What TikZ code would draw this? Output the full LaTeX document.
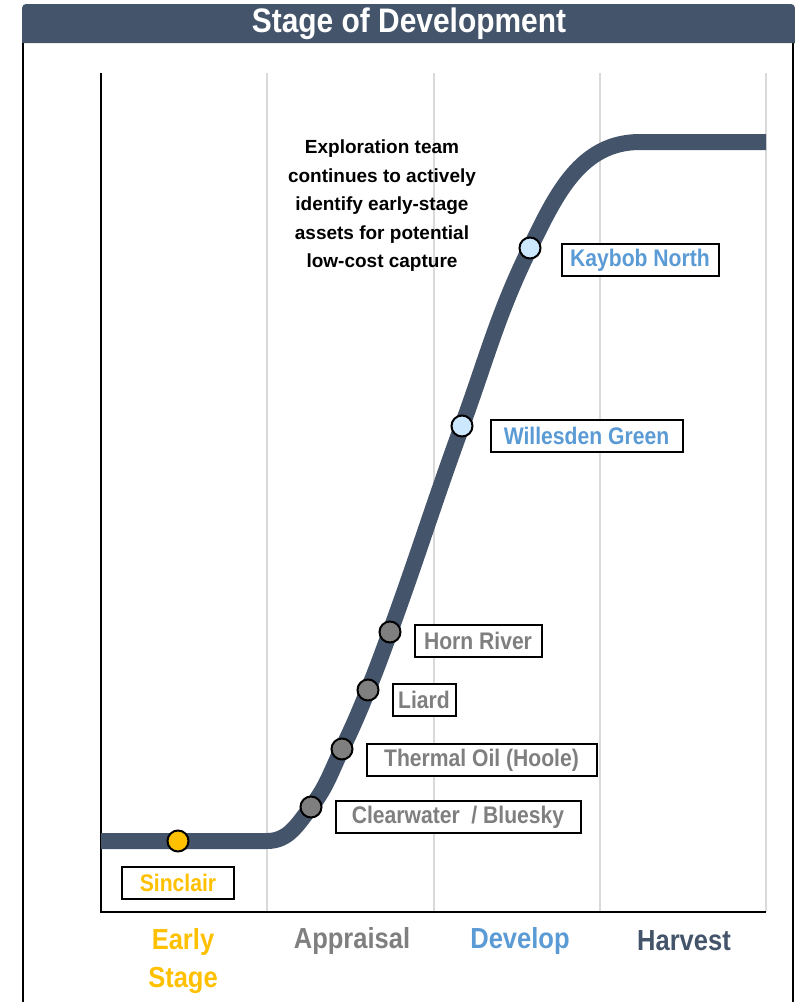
\documentclass[tikz,border=0pt]{standalone}
\usepackage{fontspec}
\setmainfont{Liberation Sans}
\newfontfamily\narrowsans{Liberation Sans}[FakeStretch=0.88]
\usetikzlibrary{positioning}
\definecolor{ardoise}{HTML}{44546A}
\definecolor{jaune}{HTML}{FFC000}
\definecolor{gris}{HTML}{7F7F7F}
\definecolor{bleu}{HTML}{5B9BD5}
\definecolor{bleuclair}{HTML}{CCE8FF}
\definecolor{grille}{HTML}{D9D9D9}
\tikzset{
  actif/.style={circle, draw=black, line width=2pt, minimum size=21pt, inner sep=0pt},
  etiquette/.style={draw=black, line width=2pt, fill=white, minimum height=32pt, inner sep=0pt,
    text=gris, font=\narrowsans\bfseries\fontsize{24}{24}\selectfont},
  phase/.style={align=center, font=\narrowsans\bfseries\fontsize{29}{38}\selectfont}
}
\begin{document}
\begin{tikzpicture}[x=1pt,y=-1pt]
  \useasboundingbox (0,0) rectangle (795,1002);

  %cadre
  \fill[ardoise] (22,43) [rounded corners=4pt] -- (22,4) -- (795,4) [sharp corners] -- (795,43) -- cycle;
  \node[text=white, font=\narrowsans\bfseries\fontsize{34}{34}\selectfont] (titre) at (409,24) {Stage of Development};
  \draw[line width=2pt] (23,43) -- (23,1002);
  \draw[line width=2pt] (793,43) -- (793,1002);

  %grille
  \foreach \x in {267,434,600,766}
    \draw[grille, line width=2pt] (\x,73) -- (\x,912);
  %axes
  \draw[line width=2pt] (101,73) -- (101,912) -- (766,912);

  %courbe
  \coordinate (sin) at (178,841);
  \coordinate (cw) at (311,807);
  \coordinate (th) at (342,749);
  \coordinate (li) at (368,690);
  \coordinate (hr) at (390,632);
  \coordinate (wg) at (462,426);
  \coordinate (kn) at (530,248);
  \draw[ardoise, line width=16pt] (101,841) -- (267,841) to[out=0,in=232] (cw)
    to[out=52,in=244] (th) to[out=64,in=248] (li) to[out=68,in=250] (hr)
    to[out=70,in=250] (wg) to[out=70,in=244] (kn) to[out=64,in=180] (640,142) -- (766,142);

  %actifs
  \node[actif, fill=jaune] (sinclair) at (sin) {};
  \node[actif, fill=gris] (clearwater) at (cw) {};
  \node[actif, fill=gris] (thermal) at (th) {};
  \node[actif, fill=gris] (liard) at (li) {};
  \node[actif, fill=gris] (horn) at (hr) {};
  \node[actif, fill=bleuclair] (willesden) at (wg) {};
  \node[actif, fill=bleuclair] (kaybob) at (kn) {};

  %etiquettes
  \node[etiquette, text=jaune, minimum width=112pt, below=13pt of sinclair] (lsinclair) {Sinclair};
  \node[etiquette, minimum width=245pt, right=12pt of clearwater, yshift=-10pt] (lclearwater) {Clearwater\ \ / Bluesky};
  \node[etiquette, minimum width=230pt, right=12pt of thermal, yshift=-11pt] (lthermal) {Thermal Oil (Hoole)};
  \node[etiquette, minimum width=63pt, right=12pt of liard, yshift=-10pt] (lliard) {Liard};
  \node[etiquette, minimum width=127pt, right=12pt of horn, yshift=-9pt] (lhorn) {Horn River};
  \node[etiquette, text=bleu, minimum width=192pt, right=16pt of willesden, yshift=-10pt] (lwillesden) {Willesden Green};
  \node[etiquette, text=bleu, minimum width=157pt, right=19pt of kaybob, yshift=-12pt] (lkaybob) {Kaybob North};

  %texte
  \node[align=center, font=\bfseries\fontsize{19}{28.5}\selectfont] (note) at (382,206)
    {Exploration team\\continues to actively\\identify early-stage\\assets for potential\\low-cost capture};

  %phases
  \node[phase, text=jaune] (early) at (183,961) {Early\\Stage};
  \node[phase, text=gris] (appraisal) at (352,941) {Appraisal};
  \node[phase, text=bleu] (develop) at (520,941) {Develop};
  \node[phase, text=ardoise] (harvest) at (684,941) {Harvest};
\end{tikzpicture}
\end{document}
